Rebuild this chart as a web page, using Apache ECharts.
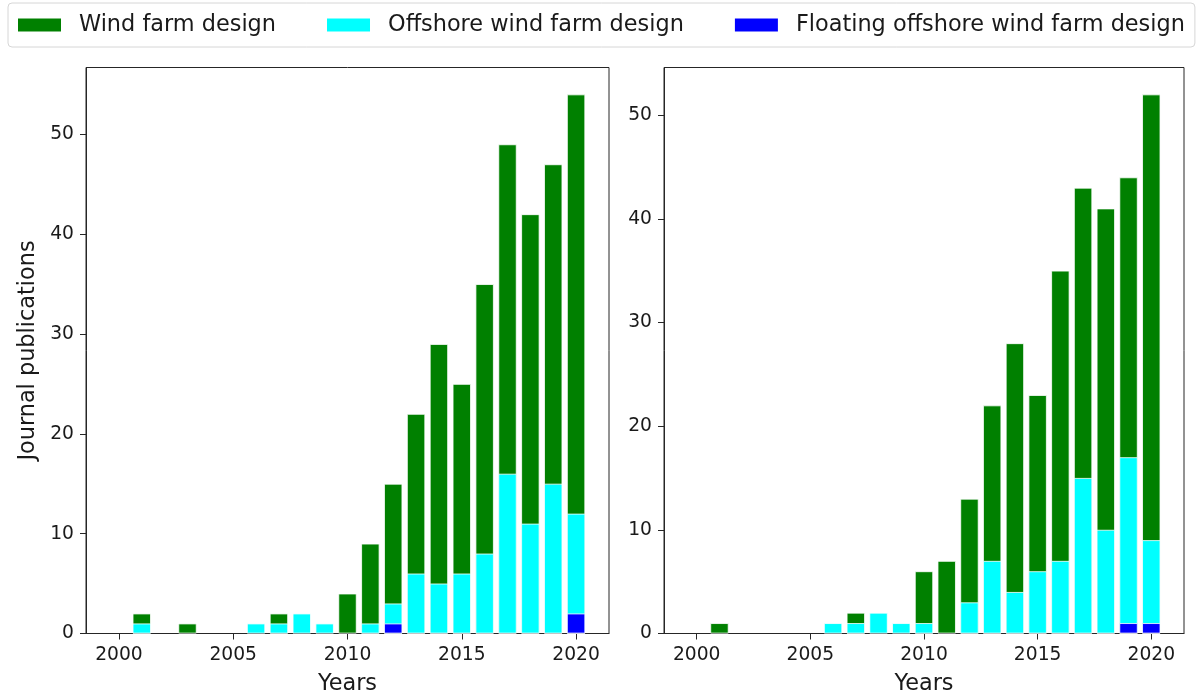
<!DOCTYPE html>
<html>
<head>
<meta charset="utf-8">
<script src="https://cdn.jsdelivr.net/npm/echarts@6/dist/echarts.min.js"></script>
<style>
  html, body { margin: 0; padding: 0; background: #fff; }
  #chart { width: 1196px; height: 695px; }
</style>
</head>
<body>
<div id="chart"></div>
<script>
// Publication years (bars at each integer year)
const years = [2000, 2001, 2002, 2003, 2004, 2005, 2006, 2007, 2008, 2009, 2010,
               2011, 2012, 2013, 2014, 2015, 2016, 2017, 2018, 2019, 2020];

// Left panel counts
const leftWind     = [0, 2, 0, 1, 0, 0, 0, 2, 0, 0, 4, 9, 15, 22, 29, 25, 35, 49, 42, 47, 54];
const leftOffshore = [0, 1, 0, 0, 0, 0, 1, 1, 2, 1, 0, 1, 3, 6, 5, 6, 8, 16, 11, 15, 12];
const leftFloating = [0, 0, 0, 0, 0, 0, 0, 0, 0, 0, 0, 0, 1, 0, 0, 0, 0, 0, 0, 0, 2];

// Right panel counts
const rightWind     = [0, 1, 0, 0, 0, 0, 0, 2, 0, 0, 6, 7, 13, 22, 28, 23, 35, 43, 41, 44, 52];
const rightOffshore = [0, 0, 0, 0, 0, 0, 1, 1, 2, 1, 1, 0, 3, 7, 4, 6, 7, 15, 10, 17, 9];
const rightFloating = [0, 0, 0, 0, 0, 0, 0, 0, 0, 0, 0, 0, 0, 0, 0, 0, 0, 0, 0, 1, 1];

// Tick labels
const xTicks = [2000, 2005, 2010, 2015, 2020];
const leftYTicks = [0, 10, 20, 30, 40, 50];
const rightYTicks = [0, 10, 20, 30, 40, 50];

const seriesNames = ['Wind farm design', 'Offshore wind farm design', 'Floating offshore wind farm design'];
const seriesColors = ['#008000', '#00ffff', '#0000ff'];

const FONT = 'DejaVu Sans';
const TEXT = '#1a1a1a';
const FRAME = '#262626';
const TICK_SIZE = 18.7;
const LABEL_SIZE = 22.4;

// autoscale: bar extent 0.8 wide, 5% margins
const xMin = 2000 - 0.4 - 0.05 * 20.8;
const xMax = 2020 + 0.4 + 0.05 * 20.8;

function pairs(values) {
  const out = [];
  values.forEach((v, i) => { if (v > 0) out.push([years[i], v]); });
  return out;
}

function xAxis(gridIndex) {
  return {
    type: 'value', gridIndex, min: xMin, max: xMax,
    name: 'Years', nameLocation: 'middle', nameGap: 40,
    nameTextStyle: { fontFamily: FONT, fontSize: LABEL_SIZE, color: TEXT },
    splitLine: { show: false },
    axisLine: { show: true, lineStyle: { color: FRAME, width: 1 } },
    axisTick: { show: true, length: 6, lineStyle: { color: FRAME }, customValues: xTicks },
    axisLabel: {
      fontFamily: FONT, fontSize: TICK_SIZE, color: TEXT, margin: 12,
      customValues: xTicks, formatter: v => String(v)
    }
  };
}

function yAxis(gridIndex, maxVal, ticks, name) {
  return {
    type: 'value', gridIndex, min: 0, max: maxVal,
    name: name || '', nameLocation: 'middle', nameGap: 47, nameRotate: 90,
    nameTextStyle: { fontFamily: FONT, fontSize: LABEL_SIZE, color: TEXT },
    splitLine: { show: false },
    axisLine: { show: true, lineStyle: { color: FRAME, width: 1 } },
    axisTick: { show: true, length: 6, lineStyle: { color: FRAME }, customValues: ticks },
    axisLabel: {
      fontFamily: FONT, fontSize: TICK_SIZE, color: TEXT, margin: 12,
      customValues: ticks, formatter: v => String(v)
    }
  };
}

function barSeries(idx, values, axisIndex) {
  return {
    type: 'bar', name: seriesNames[idx],
    xAxisIndex: axisIndex, yAxisIndex: axisIndex,
    data: pairs(values),
    barWidth: 18.3, barGap: '-100%',
    itemStyle: { color: seriesColors[idx], borderColor: '#ffffff', borderWidth: 0.8 },
    emphasis: { disabled: true },
    animation: false
  };
}

const gridBase = {
  top: 67.5, height: 566, show: true, borderColor: FRAME, borderWidth: 1,
  containLabel: false, outerBoundsMode: 'none'
};

const chart = echarts.init(document.getElementById('chart'), null, { renderer: 'canvas' });
chart.setOption({
  animation: false,
  backgroundColor: '#ffffff',
  textStyle: { fontFamily: FONT },
  legend: {
    left: 8, top: 3,
    padding: [11, 10, 11, 8],
    itemGap: 49, itemWidth: 45, itemHeight: 15,
    borderColor: '#d6d6d6', borderWidth: 1, borderRadius: 4,
    icon: 'rect',
    textStyle: { fontFamily: FONT, fontSize: LABEL_SIZE, color: TEXT, padding: [0, 0, 0, 12] },
    data: seriesNames,
    selectedMode: false
  },
  grid: [
    Object.assign({ left: 86, width: 523 }, gridBase),
    Object.assign({ left: 664, width: 520 }, gridBase)
  ],
  xAxis: [xAxis(0), xAxis(1)],
  yAxis: [
    yAxis(0, 54 * 1.05, leftYTicks, 'Journal publications'),
    yAxis(1, 52 * 1.05, rightYTicks, '')
  ],
  series: [
    barSeries(0, leftWind, 0),
    barSeries(1, leftOffshore, 0),
    barSeries(2, leftFloating, 0),
    barSeries(0, rightWind, 1),
    barSeries(1, rightOffshore, 1),
    barSeries(2, rightFloating, 1)
  ]
});
</script>
</body>
</html>
